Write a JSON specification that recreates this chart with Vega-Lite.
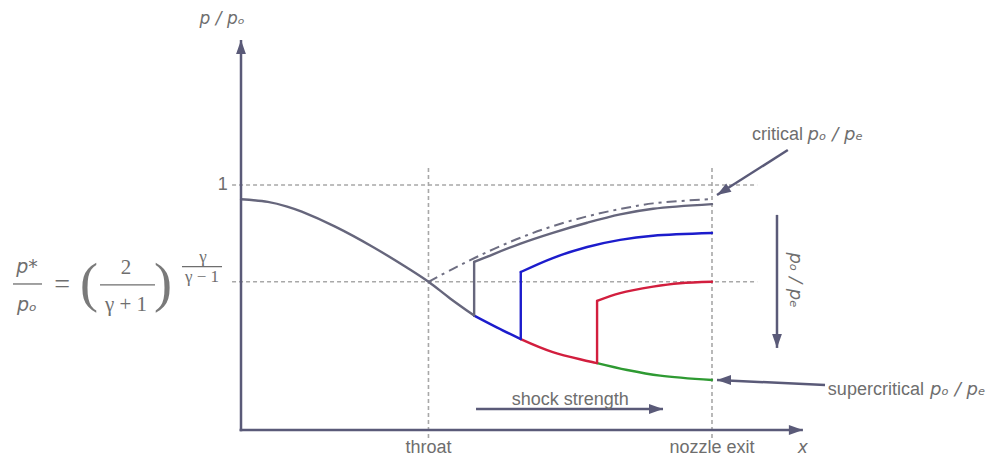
{
  "$schema": "https://vega.github.io/schema/vega-lite/v6.json",
  "description": "Pressure ratio along a converging-diverging nozzle, with normal shocks of increasing strength in the diverging section.",
  "width": 994,
  "height": 460,
  "autosize": "none",
  "padding": 0,
  "background": "white",
  "config": {"view": {"stroke": null}},
  "datasets": {
    "curves": [
      {"series": "A", "part": "A-lower", "x": 0.0, "p": 0.942},
      {"series": "A", "part": "A-lower", "x": 0.057, "p": 0.931},
      {"series": "A", "part": "A-lower", "x": 0.098, "p": 0.912},
      {"series": "A", "part": "A-lower", "x": 0.129, "p": 0.891},
      {"series": "A", "part": "A-lower", "x": 0.2, "p": 0.83},
      {"series": "A", "part": "A-lower", "x": 0.281, "p": 0.746},
      {"series": "A", "part": "A-lower", "x": 0.352, "p": 0.663},
      {"series": "A", "part": "A-lower", "x": 0.398, "p": 0.605},
      {"series": "A", "part": "A-lower", "x": 0.444, "p": 0.537},
      {"series": "A", "part": "A-lower", "x": 0.495, "p": 0.467},
      {"series": "B", "part": "B-lower", "x": 0.495, "p": 0.467},
      {"series": "B", "part": "B-lower", "x": 0.544, "p": 0.418},
      {"series": "B", "part": "B-lower", "x": 0.594, "p": 0.371},
      {"series": "C", "part": "C-lower", "x": 0.594, "p": 0.371},
      {"series": "C", "part": "C-lower", "x": 0.662, "p": 0.318},
      {"series": "C", "part": "C-lower", "x": 0.756, "p": 0.273},
      {"series": "D", "part": "D-lower", "x": 0.756, "p": 0.273},
      {"series": "D", "part": "D-lower", "x": 0.82, "p": 0.245},
      {"series": "D", "part": "D-lower", "x": 0.89, "p": 0.222},
      {"series": "D", "part": "D-lower", "x": 1.0, "p": 0.204},
      {"series": "A", "part": "A-upper", "x": 0.495, "p": 0.686},
      {"series": "A", "part": "A-upper", "x": 0.522, "p": 0.707},
      {"series": "A", "part": "A-upper", "x": 0.592, "p": 0.76},
      {"series": "A", "part": "A-upper", "x": 0.662, "p": 0.805},
      {"series": "A", "part": "A-upper", "x": 0.735, "p": 0.846},
      {"series": "A", "part": "A-upper", "x": 0.805, "p": 0.88},
      {"series": "A", "part": "A-upper", "x": 0.875, "p": 0.903},
      {"series": "A", "part": "A-upper", "x": 1.0, "p": 0.922},
      {"series": "B", "part": "B-upper", "x": 0.594, "p": 0.645},
      {"series": "B", "part": "B-upper", "x": 0.662, "p": 0.702},
      {"series": "B", "part": "B-upper", "x": 0.735, "p": 0.747},
      {"series": "B", "part": "B-upper", "x": 0.805, "p": 0.776},
      {"series": "B", "part": "B-upper", "x": 0.875, "p": 0.793},
      {"series": "B", "part": "B-upper", "x": 1.0, "p": 0.804},
      {"series": "C", "part": "C-upper", "x": 0.756, "p": 0.527},
      {"series": "C", "part": "C-upper", "x": 0.805, "p": 0.559},
      {"series": "C", "part": "C-upper", "x": 0.875, "p": 0.585},
      {"series": "C", "part": "C-upper", "x": 0.932, "p": 0.599},
      {"series": "C", "part": "C-upper", "x": 1.0, "p": 0.605}
    ],
    "shocks": [
      {"series": "A", "x": 0.495, "p": 0.467, "p2": 0.686},
      {"series": "B", "x": 0.594, "p": 0.371, "p2": 0.645},
      {"series": "C", "x": 0.756, "p": 0.273, "p2": 0.527}
    ],
    "critical": [
      {"x": 0.398, "p": 0.605},
      {"x": 0.45, "p": 0.658},
      {"x": 0.497, "p": 0.703},
      {"x": 0.55, "p": 0.75},
      {"x": 0.607, "p": 0.795},
      {"x": 0.662, "p": 0.832},
      {"x": 0.735, "p": 0.872},
      {"x": 0.805, "p": 0.902},
      {"x": 0.875, "p": 0.925},
      {"x": 1.0, "p": 0.943}
    ],
    "arrows": [
      {"name": "p/po axis", "x": 0, "p": -0.005, "x2": 0, "p2": 1.592, "dir": "up"},
      {"name": "x axis", "x": -0.003, "p": 0, "x2": 1.193, "p2": 0, "dir": "right"},
      {"name": "critical", "x": 1.161, "p": 1.143, "x2": 1.0106, "p2": 0.959, "dir": "downleft"},
      {"name": "po/pe", "x": 1.138, "p": 0.878, "x2": 1.138, "p2": 0.335, "dir": "down"},
      {"name": "supercritical", "x": 1.24, "p": 0.184, "x2": 1.0106, "p2": 0.204, "dir": "left"},
      {"name": "shock strength", "x": 0.499, "p": 0.0857, "x2": 0.896, "p2": 0.0857, "dir": "right"}
    ]
  },
  "layer": [
    {
      "description": "dotted guide lines at p/po = 1 and p*/po",
      "data": {"values": [{"p": 1.0}, {"p": 0.605}]},
      "mark": {"type": "rule", "color": "#a8a8a8", "strokeWidth": 1.6, "strokeDash": [4, 3]},
      "encoding": {
        "x": {"datum": -0.019, "type": "quantitative", "scale": {"domain": [-0.51168, 1.59873], "nice": false, "zero": false}, "axis": null},
        "x2": {"datum": 1.096},
        "y": {"field": "p", "type": "quantitative", "scale": {"domain": [-0.12245, 1.7551], "nice": false, "zero": false}, "axis": null}
      }
    },
    {
      "description": "dotted guide lines at the throat and nozzle exit",
      "data": {"values": [{"x": 0.398}, {"x": 1.0}]},
      "mark": {"type": "rule", "color": "#a8a8a8", "strokeWidth": 1.6, "strokeDash": [4, 3]},
      "encoding": {
        "x": {"field": "x", "type": "quantitative", "scale": {"domain": [-0.51168, 1.59873], "nice": false, "zero": false}, "axis": null},
        "y": {"datum": 1.069, "type": "quantitative", "scale": {"domain": [-0.12245, 1.7551], "nice": false, "zero": false}, "axis": null},
        "y2": {"datum": -0.033}
      }
    },
    {
      "description": "critical subsonic branch",
      "data": {"name": "critical"},
      "mark": {"type": "line", "interpolate": "catmull-rom", "color": "#6e6e82", "strokeWidth": 2, "strokeDash": [10, 5, 3, 5]},
      "encoding": {
        "x": {"field": "x", "type": "quantitative", "scale": {"domain": [-0.51168, 1.59873], "nice": false, "zero": false}, "axis": null},
        "y": {"field": "p", "type": "quantitative", "scale": {"domain": [-0.12245, 1.7551], "nice": false, "zero": false}, "axis": null}
      }
    },
    {
      "description": "pressure distributions",
      "data": {"name": "curves"},
      "mark": {"type": "line", "interpolate": "catmull-rom", "strokeWidth": 2.4, "strokeCap": "round"},
      "encoding": {
        "x": {"field": "x", "type": "quantitative", "scale": {"domain": [-0.51168, 1.59873], "nice": false, "zero": false}, "axis": null},
        "y": {"field": "p", "type": "quantitative", "scale": {"domain": [-0.12245, 1.7551], "nice": false, "zero": false}, "axis": null},
        "detail": {"field": "part", "type": "nominal"},
        "color": {"field": "series", "type": "nominal", "scale": {"domain": ["A", "B", "C", "D"], "range": ["#66667c", "#1c1ccc", "#d21e3e", "#2e9a32"]}, "legend": null}
      }
    },
    {
      "description": "normal shocks",
      "data": {"name": "shocks"},
      "mark": {"type": "rule", "strokeWidth": 2.4, "strokeCap": "round"},
      "encoding": {
        "x": {"field": "x", "type": "quantitative", "scale": {"domain": [-0.51168, 1.59873], "nice": false, "zero": false}, "axis": null},
        "y": {"field": "p", "type": "quantitative", "scale": {"domain": [-0.12245, 1.7551], "nice": false, "zero": false}, "axis": null},
        "y2": {"field": "p2"},
        "color": {"field": "series", "type": "nominal", "scale": {"domain": ["A", "B", "C", "D"], "range": ["#66667c", "#1c1ccc", "#d21e3e", "#2e9a32"]}, "legend": null}
      }
    },
    {
      "description": "axis and annotation arrow shafts",
      "data": {"name": "arrows"},
      "mark": {"type": "rule", "color": "#5a5a78", "strokeWidth": 2.5},
      "encoding": {
        "x": {"field": "x", "type": "quantitative", "scale": {"domain": [-0.51168, 1.59873], "nice": false, "zero": false}, "axis": null},
        "y": {"field": "p", "type": "quantitative", "scale": {"domain": [-0.12245, 1.7551], "nice": false, "zero": false}, "axis": null},
        "x2": {"field": "x2"},
        "y2": {"field": "p2"}
      }
    },
    {
      "description": "arrow heads, tip at the shaft end",
      "data": {"name": "arrows"},
      "mark": {"type": "point", "filled": true, "opacity": 1, "color": "#5a5a78", "size": 196, "strokeWidth": 0},
      "encoding": {
        "x": {"field": "x2", "type": "quantitative", "scale": {"domain": [-0.51168, 1.59873], "nice": false, "zero": false}, "axis": null},
        "y": {"field": "p2", "type": "quantitative", "scale": {"domain": [-0.12245, 1.7551], "nice": false, "zero": false}, "axis": null},
        "shape": {
          "field": "dir", "type": "nominal", "legend": null,
          "scale": {
            "domain": ["up", "right", "down", "left", "downleft"],
            "range": ["M0,0L0.7,2L-0.7,2Z", "M0,0L-2,-0.7L-2,0.7Z", "M0,0L0.7,-2L-0.7,-2Z", "M0,0L2,-0.7L2,0.7Z", "M0,0L2.065,-0.48L1.315,-1.66Z"]
          }
        }
      }
    },
    {
      "description": "axis and annotation labels",
      "data": {"values": [
        {"text": "throat", "x": 0.398, "p": -0.073},
        {"text": "nozzle exit", "x": 1.0, "p": -0.073},
        {"text": "shock strength", "x": 0.699, "p": 0.124}
      ]},
      "mark": {"type": "text", "font": "Liberation Sans", "fontSize": 18, "color": "#6e6e6e", "align": "center", "baseline": "middle"},
      "encoding": {
        "x": {"field": "x", "type": "quantitative", "scale": {"domain": [-0.51168, 1.59873], "nice": false, "zero": false}, "axis": null},
        "y": {"field": "p", "type": "quantitative", "scale": {"domain": [-0.12245, 1.7551], "nice": false, "zero": false}, "axis": null},
        "text": {"field": "text"}
      }
    },
    {
      "data": {"values": [
        {"text": "critical", "x": 1.085, "p": 1.204},
        {"text": "supercritical", "x": 1.246, "p": 0.163}
      ]},
      "mark": {"type": "text", "font": "Liberation Sans", "fontSize": 18, "color": "#6e6e6e", "align": "left", "baseline": "middle"},
      "encoding": {
        "x": {"field": "x", "type": "quantitative", "scale": {"domain": [-0.51168, 1.59873], "nice": false, "zero": false}, "axis": null},
        "y": {"field": "p", "type": "quantitative", "scale": {"domain": [-0.12245, 1.7551], "nice": false, "zero": false}, "axis": null},
        "text": {"field": "text"}
      }
    },
    {
      "data": {"values": [
        {"text": "pₒ / pₑ", "x": 1.203, "p": 1.204},
        {"text": "pₒ / pₑ", "x": 1.463, "p": 0.163}
      ]},
      "mark": {"type": "text", "font": "DejaVu Sans", "fontStyle": "italic", "fontSize": 18, "color": "#6e6e6e", "align": "left", "baseline": "middle"},
      "encoding": {
        "x": {"field": "x", "type": "quantitative", "scale": {"domain": [-0.51168, 1.59873], "nice": false, "zero": false}, "axis": null},
        "y": {"field": "p", "type": "quantitative", "scale": {"domain": [-0.12245, 1.7551], "nice": false, "zero": false}, "axis": null},
        "text": {"field": "text"}
      }
    },
    {
      "data": {"values": [{"text": "pₒ / pₑ", "x": 1.176, "p": 0.612}]},
      "mark": {"type": "text", "font": "DejaVu Sans", "fontStyle": "italic", "fontSize": 18, "color": "#6e6e6e", "align": "center", "baseline": "middle", "angle": 90},
      "encoding": {
        "x": {"field": "x", "type": "quantitative", "scale": {"domain": [-0.51168, 1.59873], "nice": false, "zero": false}, "axis": null},
        "y": {"field": "p", "type": "quantitative", "scale": {"domain": [-0.12245, 1.7551], "nice": false, "zero": false}, "axis": null},
        "text": {"field": "text"}
      }
    },
    {
      "data": {"values": [
        {"text": "x", "x": 1.193, "p": -0.073},
        {"text": "p / pₒ", "x": -0.04, "p": 1.678}
      ]},
      "mark": {"type": "text", "font": "DejaVu Sans", "fontStyle": "italic", "fontSize": 17, "color": "#6e6e6e", "align": "center", "baseline": "middle"},
      "encoding": {
        "x": {"field": "x", "type": "quantitative", "scale": {"domain": [-0.51168, 1.59873], "nice": false, "zero": false}, "axis": null},
        "y": {"field": "p", "type": "quantitative", "scale": {"domain": [-0.12245, 1.7551], "nice": false, "zero": false}, "axis": null},
        "text": {"field": "text"}
      }
    },
    {
      "data": {"values": [{"text": "1", "x": -0.028, "p": 1.0}]},
      "mark": {"type": "text", "font": "Liberation Sans", "fontSize": 18, "color": "#6e6e6e", "align": "right", "baseline": "middle"},
      "encoding": {
        "x": {"field": "x", "type": "quantitative", "scale": {"domain": [-0.51168, 1.59873], "nice": false, "zero": false}, "axis": null},
        "y": {"field": "p", "type": "quantitative", "scale": {"domain": [-0.12245, 1.7551], "nice": false, "zero": false}, "axis": null},
        "text": {"field": "text"}
      }
    },
    {
      "description": "critical pressure ratio formula: ratio terms",
      "data": {"values": [
        {"text": "p*", "x": -0.4544, "p": 0.665},
        {"text": "pₒ", "x": -0.4544, "p": 0.51}
      ]},
      "mark": {"type": "text", "font": "DejaVu Sans", "fontStyle": "italic", "fontSize": 19, "color": "#6e6e6e", "align": "center", "baseline": "middle"},
      "encoding": {
        "x": {"field": "x", "type": "quantitative", "scale": {"domain": [-0.51168, 1.59873], "nice": false, "zero": false}, "axis": null},
        "y": {"field": "p", "type": "quantitative", "scale": {"domain": [-0.12245, 1.7551], "nice": false, "zero": false}, "axis": null},
        "text": {"field": "text"}
      }
    },
    {
      "data": {"values": [
        {"text": "2", "x": -0.2442, "p": 0.661},
        {"text": "γ + 1", "x": -0.2442, "p": 0.51}
      ]},
      "mark": {"type": "text", "font": "Liberation Serif", "fontSize": 21, "color": "#6e6e6e", "align": "center", "baseline": "middle"},
      "encoding": {
        "x": {"field": "x", "type": "quantitative", "scale": {"domain": [-0.51168, 1.59873], "nice": false, "zero": false}, "axis": null},
        "y": {"field": "p", "type": "quantitative", "scale": {"domain": [-0.12245, 1.7551], "nice": false, "zero": false}, "axis": null},
        "text": {"field": "text"}
      }
    },
    {
      "data": {"values": [
        {"text": "γ", "x": -0.0807, "p": 0.706},
        {"text": "γ − 1", "x": -0.0828, "p": 0.624}
      ]},
      "mark": {"type": "text", "font": "Liberation Serif", "fontSize": 17, "color": "#6e6e6e", "align": "center", "baseline": "middle"},
      "encoding": {
        "x": {"field": "x", "type": "quantitative", "scale": {"domain": [-0.51168, 1.59873], "nice": false, "zero": false}, "axis": null},
        "y": {"field": "p", "type": "quantitative", "scale": {"domain": [-0.12245, 1.7551], "nice": false, "zero": false}, "axis": null},
        "text": {"field": "text"}
      }
    },
    {
      "data": {"values": [{"text": "=", "x": -0.38, "p": 0.592}]},
      "mark": {"type": "text", "font": "Liberation Serif", "fontSize": 28, "color": "#6e6e6e", "align": "center", "baseline": "middle"},
      "encoding": {
        "x": {"field": "x", "type": "quantitative", "scale": {"domain": [-0.51168, 1.59873], "nice": false, "zero": false}, "axis": null},
        "y": {"field": "p", "type": "quantitative", "scale": {"domain": [-0.12245, 1.7551], "nice": false, "zero": false}, "axis": null},
        "text": {"field": "text"}
      }
    },
    {
      "data": {"values": [
        {"text": "(", "x": -0.3227, "p": 0.59},
        {"text": ")", "x": -0.1656, "p": 0.59}
      ]},
      "mark": {"type": "text", "font": "Liberation Serif", "fontSize": 54, "color": "#7a7a7a", "align": "center", "baseline": "middle"},
      "encoding": {
        "x": {"field": "x", "type": "quantitative", "scale": {"domain": [-0.51168, 1.59873], "nice": false, "zero": false}, "axis": null},
        "y": {"field": "p", "type": "quantitative", "scale": {"domain": [-0.12245, 1.7551], "nice": false, "zero": false}, "axis": null},
        "text": {"field": "text"}
      }
    },
    {
      "description": "fraction bars",
      "data": {"values": [
        {"x": -0.4841, "x2": -0.4225, "p": 0.596},
        {"x": -0.2994, "x2": -0.1826, "p": 0.592},
        {"x": -0.1253, "x2": -0.0403, "p": 0.667}
      ]},
      "mark": {"type": "rule", "color": "#6e6e6e", "strokeWidth": 1.3},
      "encoding": {
        "x": {"field": "x", "type": "quantitative", "scale": {"domain": [-0.51168, 1.59873], "nice": false, "zero": false}, "axis": null},
        "x2": {"field": "x2"},
        "y": {"field": "p", "type": "quantitative", "scale": {"domain": [-0.12245, 1.7551], "nice": false, "zero": false}, "axis": null}
      }
    }
  ]
}
